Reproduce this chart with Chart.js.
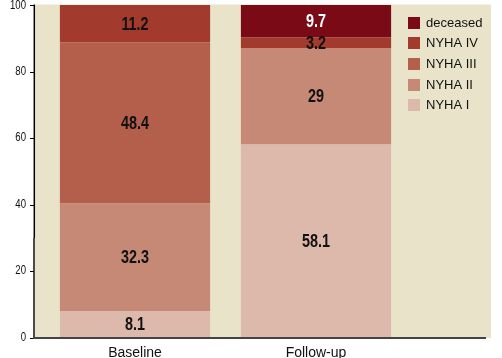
<!DOCTYPE html>
<html>
<head>
<meta charset="utf-8">
<script src="https://cdn.jsdelivr.net/npm/chart.js@4"></script>
<style>
  html, body { margin: 0; padding: 0; background: #ffffff; }
  #wrap { width: 502px; height: 358px; }
</style>
</head>
<body>
<div id="wrap"><canvas id="c" width="502" height="358"></canvas></div>
<script>
const categories = ["Baseline", "Follow-up"];
const seriesNames = ["NYHA I", "NYHA II", "NYHA III", "NYHA IV", "deceased"];
const nyha1 = [8.1, 58.1];
const nyha2 = [32.3, 29];
const nyha3 = [48.4, 0];
const nyha4 = [11.2, 3.2];
const deceased = [0, 9.7];
const yTicks = [0, 20, 40, 60, 80, 100];
const colors = ["#DDB9AC", "#C68975", "#B35F4B", "#A23A2E", "#7A0A16"];
const labelColors = ["#111", "#111", "#111", "#111", "#ffffff"];

const seriesValues = [nyha1, nyha2, nyha3, nyha4, deceased];

const NARROW = 0.8;
function narrowText(ctx, text, x, y) {
  ctx.save();
  ctx.translate(x, y);
  ctx.scale(NARROW, 1);
  ctx.fillText(text, 0, 0);
  ctx.restore();
}

const bgPlugin = {
  id: 'bg',
  beforeDraw(chart) {
    const ctx = chart.ctx;
    const a = chart.chartArea;
    ctx.save();
    ctx.fillStyle = '#E9E4C9';
    ctx.fillRect(a.left - 10, a.top - 0.5, 491 - (a.left - 10), a.bottom - a.top + 0.5);
    ctx.restore();
  }
};

const axesPlugin = {
  id: 'axes',
  afterDatasetsDraw(chart) {
    const ctx = chart.ctx;
    const a = chart.chartArea;
    const y = chart.scales.y;
    const ax = a.left - 10.5;
    ctx.save();
    const split = y.getPixelForValue(30);
    ctx.strokeStyle = '#000';
    ctx.lineWidth = 1.5;
    ctx.beginPath();
    ctx.moveTo(ax + 0.3, a.top - 0.5);
    ctx.lineTo(ax + 0.3, split);
    ctx.stroke();
    ctx.strokeStyle = '#4a4a4a';
    ctx.lineWidth = 2;
    ctx.beginPath();
    ctx.moveTo(ax, split);
    ctx.lineTo(ax, a.bottom + 1);
    ctx.stroke();
    ctx.strokeStyle = '#000';
    ctx.lineWidth = 1;
    ctx.font = '12px "Liberation Sans", Arial, sans-serif';
    ctx.fillStyle = '#111';
    ctx.textAlign = 'right';
    ctx.textBaseline = 'middle';
    yTicks.forEach(v => {
      const py = Math.round(y.getPixelForValue(v)) + 0.5;
      ctx.beginPath();
      ctx.moveTo(ax - 4, py);
      ctx.lineTo(ax, py);
      ctx.stroke();
      narrowText(ctx, String(v), 26, py - 1 + (v === 100 ? 1 : 0));
    });
    ctx.strokeStyle = '#444';
    ctx.lineWidth = 2;
    ctx.beginPath();
    ctx.moveTo(ax - 1, a.bottom);
    ctx.lineTo(486, a.bottom);
    ctx.stroke();
    ctx.restore();
  }
};

const labelPlugin = {
  id: 'vals',
  afterDatasetsDraw(chart) {
    const ctx = chart.ctx;
    ctx.save();
    ctx.font = 'bold 18px "Liberation Sans", Arial, sans-serif';
    ctx.textAlign = 'center';
    ctx.textBaseline = 'middle';
    chart.data.datasets.forEach((ds, di) => {
      const meta = chart.getDatasetMeta(di);
      meta.data.forEach((el, i) => {
        const v = ds.data[i];
        if (!v) return;
        const cy = (el.y + el.base) / 2;
        ctx.fillStyle = labelColors[di];
        narrowText(ctx, String(v), el.x, cy + 1);
      });
    });
    ctx.restore();
  }
};

const legendPlugin = {
  id: 'customLegend',
  afterDraw(chart) {
    const ctx = chart.ctx;
    ctx.save();
    ctx.font = '13px "Liberation Sans", Arial, sans-serif';
    ctx.textBaseline = 'middle';
    ctx.textAlign = 'left';
    const order = [4, 3, 2, 1, 0];
    order.forEach((di, i) => {
      const top = 16.5 + i * 20.7;
      ctx.fillStyle = colors[di];
      ctx.fillRect(408, Math.round(top), 12, 12);
      ctx.fillStyle = '#111';
      ctx.fillText(seriesNames[di], 426, Math.round(top) + 6.5);
    });
    ctx.restore();
  }
};

new Chart(document.getElementById('c'), {
  type: 'bar',
  data: {
    labels: categories,
    datasets: seriesNames.map((n, i) => ({
      label: n,
      data: seriesValues[i],
      backgroundColor: colors[i],
      borderWidth: 0,
      barPercentage: 0.83,
      categoryPercentage: 1.0
    }))
  },
  options: {
    responsive: false,
    animation: false,
    devicePixelRatio: 1,
    layout: { padding: { top: 5, right: 95.5, bottom: 0, left: 0 } },
    plugins: {
      legend: { display: false },
      tooltip: { enabled: false }
    },
    scales: {
      x: {
        stacked: true,
        grid: { display: false },
        border: { display: false },
        ticks: {
          color: '#111',
          font: { family: '"Liberation Sans", Arial, sans-serif', size: 14 },
          padding: -1
        },
        afterFit(scale) { scale.height = 20; scale.paddingLeft = 0; scale.paddingRight = 0; }
      },
      y: {
        stacked: true,
        min: 0,
        max: 100,
        afterBuildTicks(scale) { scale.ticks = yTicks.map(v => ({ value: v })); },
        grid: { display: false },
        border: { display: false },
        ticks: { display: false },
        afterFit(scale) { scale.width = 44.5; scale.paddingTop = 0; scale.paddingBottom = 0; }
      }
    }
  },
  plugins: [bgPlugin, axesPlugin, labelPlugin, legendPlugin]
});
</script>
</body>
</html>
